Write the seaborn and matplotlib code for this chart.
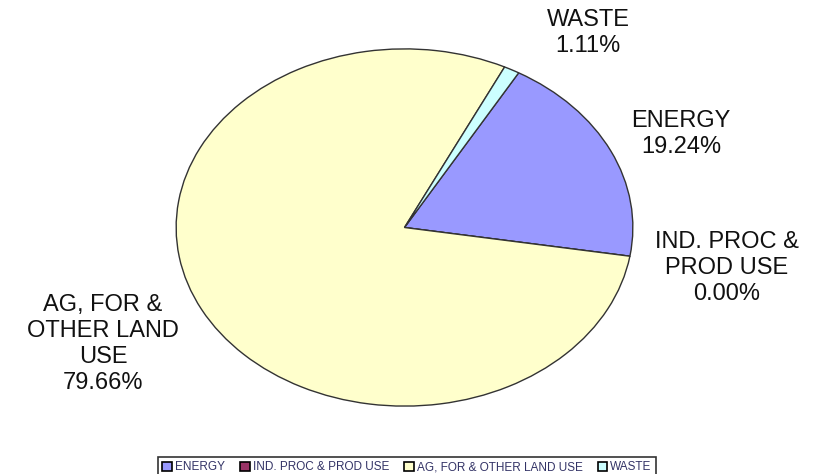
import matplotlib
matplotlib.use("Agg")
import matplotlib.pyplot as plt
from matplotlib.patches import Patch
import seaborn as sns

sns.set_theme(style="white")
plt.rcParams["font.family"] = ["Liberation Sans", "DejaVu Sans"]

# Emission shares by sector (%)
sectors = ["ENERGY", "IND. PROC & PROD USE", "AG, FOR & OTHER LAND USE", "WASTE"]
shares = [19.24, 0.00, 79.66, 1.11]
label_names = ["ENERGY", "IND. PROC &\nPROD USE", "AG, FOR &\nOTHER LAND\nUSE", "WASTE"]
colors = ["#9999FF", "#993366", "#FFFFCC", "#CCFFFF"]

W, H = 814, 474
fig = plt.figure(figsize=(W / 100, H / 100), dpi=100)
fig.patch.set_facecolor("white")

# Pie drawn into a wider-than-tall box so it renders as an ellipse
ax = fig.add_axes([175 / W, 1 - 407 / H, 459 / W, 359 / H])
ax.pie(shares, colors=colors, startangle=60, counterclock=False, radius=1.0,
       wedgeprops=dict(edgecolor="#333333", linewidth=1.0))
ax.set_aspect("auto")
ax.set_xlim(-1.005, 1.005)
ax.set_ylim(-1.005, 1.005)
ax.axis("off")

# Sector labels with percentages (pixel-centred positions)
label_pos = [(681, 134), (727, 268), (103, 344), (588, 33)]
for name, val, (px, py) in zip(label_names, shares, label_pos):
    fig.text(px / W, 1 - py / H, f"{name}\n{val:.2f}%", ha="center", va="center",
             fontsize=17, color="#111111", linespacing=1.25, multialignment="center")

handles = [Patch(facecolor=c, edgecolor="black", linewidth=1.2) for c in colors]
leg = fig.legend(handles, sectors, loc="upper center", bbox_to_anchor=(0.5, 1 - 457 / H),
                 ncol=4, fontsize=8.5, frameon=True, fancybox=False, handlelength=0.8,
                 handleheight=0.8, handletextpad=0.25, columnspacing=1.3,
                 borderpad=0.35, borderaxespad=0)
for t in leg.get_texts():
    t.set_color("#333366")
leg.get_frame().set_edgecolor("black")
leg.get_frame().set_linewidth(1.2)

fig.savefig("out.png", dpi=100, facecolor="white")
